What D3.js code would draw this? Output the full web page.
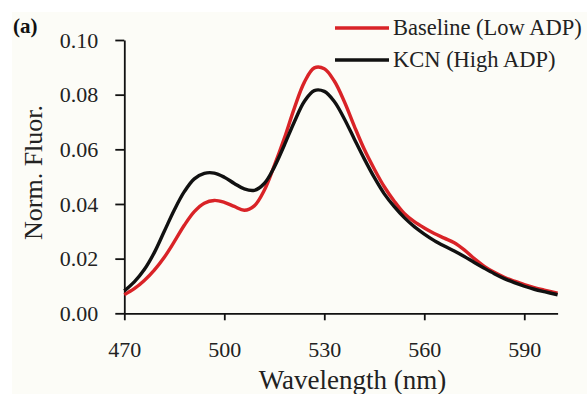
<!DOCTYPE html>
<html>
<head>
<meta charset="utf-8">
<script src="https://cdn.jsdelivr.net/npm/d3@7"></script>
<style>
    html, body { margin: 0; padding: 0; background: #ffffff; }
    svg { display: block; font-family: "Liberation Serif", "Times New Roman", serif; }
</style>
</head>
<body>
<svg id="chart"></svg>
<script>
// wavelength (nm)
const wavelengths = [470, 473, 476, 479, 482, 485, 488, 491, 494, 497, 500, 503, 506, 509, 512, 515,
    518, 521, 524, 527, 530, 533, 536, 539, 542, 545, 548, 551, 554, 557, 560, 563, 566, 569, 572,
    575, 578, 581, 584, 587, 590, 593, 596, 600];

// Baseline (Low ADP)
const baseline = [0.0068, 0.0090, 0.0120, 0.0158, 0.0205, 0.0262, 0.0322, 0.0372, 0.0403, 0.0413,
    0.0406, 0.0391, 0.0377, 0.0393, 0.0450, 0.0540, 0.0640, 0.0750, 0.0845, 0.0898, 0.0895, 0.0850,
    0.0775, 0.0685, 0.0600, 0.0528, 0.0463, 0.0410, 0.0365, 0.0335, 0.0312, 0.0292, 0.0275, 0.0258,
    0.0232, 0.0200, 0.0172, 0.0150, 0.0132, 0.0118, 0.0105, 0.0094, 0.0085, 0.0074];

// KCN (High ADP)
const kcn = [0.0082, 0.0115, 0.0160, 0.0222, 0.0300, 0.0378, 0.0445, 0.0492, 0.0512, 0.0513,
    0.0498, 0.0475, 0.0455, 0.0450, 0.0475, 0.0535, 0.0615, 0.0700, 0.0775, 0.0815, 0.0812, 0.0775,
    0.0712, 0.0638, 0.0565, 0.0497, 0.0437, 0.0390, 0.0350, 0.0317, 0.0290, 0.0266, 0.0246, 0.0228,
    0.0208, 0.0186, 0.0165, 0.0145, 0.0127, 0.0112, 0.0099, 0.0088, 0.0079, 0.0068];

const xTicks = [470, 500, 530, 560, 590];
const yTicks = [0, 0.02, 0.04, 0.06, 0.08, 0.10];
const seriesNames = ['Baseline (Low ADP)', 'KCN (High ADP)'];
const seriesColors = ['#d92327', '#111111'];

const serif = '"Liberation Serif", "Times New Roman", serif';
const width = 587;
const height = 394;
const margin = { top: 40, left: 124.3, right: 29.4, bottom: 80.7 };

const svg = d3.select('#chart')
    .attr('width', width)
    .attr('height', height);

// page tint, white strip at top/left like the scan
svg.append('rect')
    .attr('x', 12).attr('y', 12)
    .attr('width', width - 12).attr('height', height - 12)
    .attr('fill', '#fcfcf7');

const x = d3.scaleLinear()
    .domain([470, 600])
    .range([margin.left, width - margin.right]);

const y = d3.scaleLinear()
    .domain([0, 0.10])
    .range([height - margin.bottom, margin.top]);

function styleAxis(g) {
    g.attr('font-family', serif).attr('font-size', 22);
    g.selectAll('path, line').attr('stroke', '#111').attr('stroke-width', 1.8);
    g.selectAll('text').attr('fill', '#222');
}

svg.append('g')
    .attr('transform', `translate(0, ${height - margin.bottom})`)
    .call(d3.axisBottom(x).tickValues(xTicks).tickSize(7).tickSizeOuter(0).tickPadding(21))
    .call(styleAxis);

svg.append('g')
    .attr('transform', `translate(${margin.left}, 0)`)
    .call(d3.axisLeft(y).tickValues(yTicks).tickFormat(d3.format('.2f')).tickSize(9).tickSizeOuter(0).tickPadding(17))
    .call(styleAxis);

const line = d3.line()
    .x((d, i) => x(wavelengths[i]))
    .y(d => y(d))
    .curve(d3.curveCatmullRom.alpha(0.5));

[baseline, kcn].forEach((values, i) => {
    svg.append('path')
        .datum(values)
        .attr('fill', 'none')
        .attr('stroke', seriesColors[i])
        .attr('stroke-width', 3.4)
        .attr('stroke-linejoin', 'round')
        .attr('d', line);
});

// legend
seriesNames.forEach((name, i) => {
    const ly = 28 + i * 32;
    svg.append('line')
        .attr('x1', 335).attr('x2', 389)
        .attr('y1', ly).attr('y2', ly)
        .attr('stroke', seriesColors[i])
        .attr('stroke-width', 3.6);
    svg.append('text')
        .attr('x', 393).attr('y', ly + 7)
        .attr('font-size', 22.5)
        .attr('fill', '#222')
        .text(name);
});

// axis titles
svg.append('text')
    .attr('transform', 'translate(42, 172.5) rotate(-90)')
    .attr('text-anchor', 'middle')
    .attr('font-size', 26)
    .attr('fill', '#222')
    .text('Norm. Fluor.');

svg.append('text')
    .attr('x', 352.5).attr('y', 389)
    .attr('text-anchor', 'middle')
    .attr('font-size', 27)
    .attr('fill', '#222')
    .text('Wavelength (nm)');

svg.append('text')
    .attr('x', 13).attr('y', 33)
    .attr('font-size', 21)
    .attr('font-weight', 'bold')
    .attr('fill', '#111')
    .text('(a)');
</script>
</body>
</html>
